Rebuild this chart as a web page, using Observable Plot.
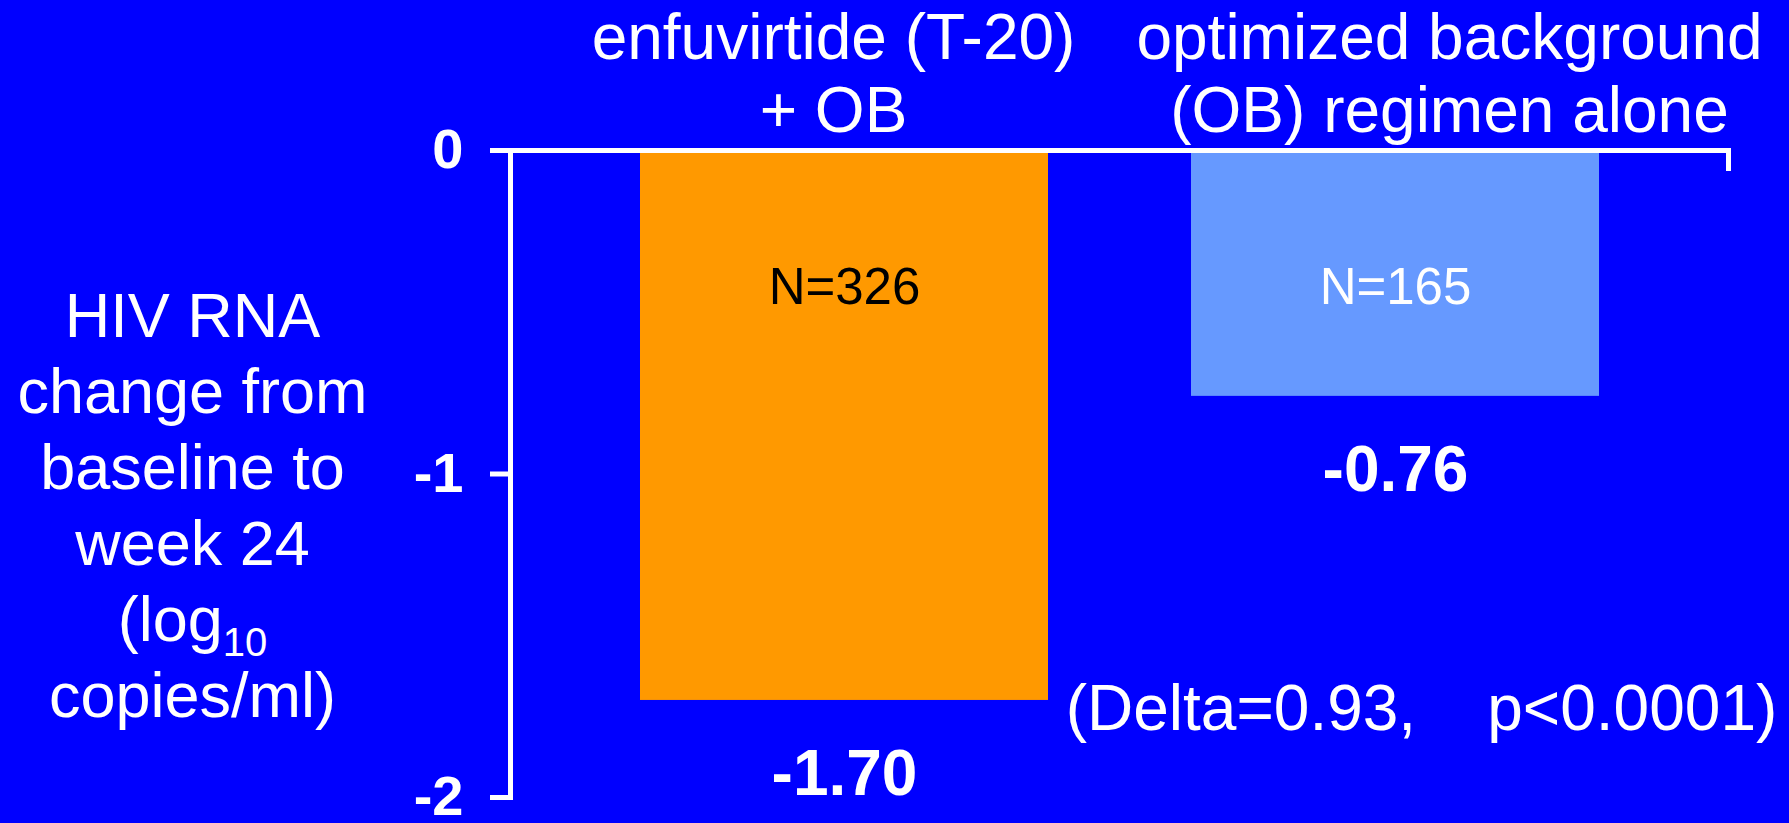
<!DOCTYPE html>
<html><head><meta charset="utf-8">
<script src="https://cdn.jsdelivr.net/npm/d3@7"></script>
<script src="https://cdn.jsdelivr.net/npm/@observablehq/plot@0.6"></script>
<style>
html,body{margin:0;padding:0;background:#0000FF;overflow:hidden;}
svg text{white-space:pre;}
</style></head><body><div id="chart"></div>
<script>
const categories = ["enfuvirtide (T-20)\n+ OB", "optimized background\n(OB) regimen alone"];
const values = [-1.70, -0.76];
const valueLabels = ["-1.70", "-0.76"];
const nLabels = ["N=326", "N=165"];
const barColors = ["#FF9900", "#6699FF"];
const nLabelColors = ["black", "white"];
const yTicks = [0, -1, -2];
const yTitle = "HIV RNA\nchange from\nbaseline to\nweek 24\n(log10\ncopies/ml)";
const note = "(Delta=0.93,    p<0.0001)";

const data = categories.map((c, i) => ({category: c, value: values[i], label: valueLabels[i], n: nLabels[i]}));
const font = "'Liberation Sans', Arial, Helvetica, sans-serif";

const chart = Plot.plot({
  width: 1789, height: 823,
  marginLeft: 510, marginRight: 61, marginTop: 150, marginBottom: 26,
  style: {background: "#0000FF", color: "white", fontFamily: font, overflow: "visible"},
  x: {domain: categories, paddingInner: 0.26, paddingOuter: 0.234, axis: null},
  y: {domain: [-2, 0], axis: null},
  color: {domain: categories, range: barColors},
  marks: [
    Plot.barY(data, {x: "category", y: "value", fill: "category"}),
    Plot.axisY({ticks: yTicks, tickSize: 20, tickPadding: 27, tickFormat: d => String(d),
      fontSize: 56, fontWeight: "bold", stroke: "white", strokeWidth: 5, label: null}),
    Plot.frame({anchor: "left", stroke: "white", strokeWidth: 5}),
    Plot.ruleY([0], {stroke: "white", strokeWidth: 5}),
    Plot.frame({anchor: "right", insetBottom: 629, stroke: "white", strokeWidth: 5}),
    Plot.text([data[0]], {x: "category", text: "category", frameAnchor: "top", lineAnchor: "bottom",
      dy: -19, dx: -11, lineHeight: 1.13, fontSize: 64, fill: "white"}),
    Plot.text([data[1]], {x: "category", text: "category", frameAnchor: "top", lineAnchor: "bottom",
      dy: -19, dx: 54, lineHeight: 1.13, fontSize: 64, fill: "white"}),
    Plot.text([data[0]], {x: "category", text: "n", frameAnchor: "top", lineAnchor: "bottom",
      dy: 153, fontSize: 51, fill: nLabelColors[0]}),
    Plot.text([data[1]], {x: "category", text: "n", frameAnchor: "top", lineAnchor: "bottom",
      dy: 153, fontSize: 51, fill: nLabelColors[1]}),
    Plot.text(data, {x: "category", y: "value", text: "label", lineAnchor: "bottom",
      dy: 95, fontSize: 64, fontWeight: "bold", fill: "white"}),
    Plot.text([note], {x: () => categories[1], y: () => values[0], text: d => d, lineAnchor: "bottom",
      dx: 26, dy: 30, fontSize: 64, fill: "white"}),
    Plot.text([yTitle], {frameAnchor: "left", text: d => d, textAnchor: "middle", lineAnchor: "middle",
      dx: -318, dy: 29, lineHeight: 1.206, fontSize: 63, fill: "white"})
  ]
});

// subscript for log10
chart.querySelectorAll("tspan, text").forEach(el => {
  if (el.childNodes.length === 1 && el.textContent === "(log10") {
    el.textContent = "(log";
    const sub = document.createElementNS("http://www.w3.org/2000/svg", "tspan");
    sub.setAttribute("font-size", "40");
    sub.setAttribute("baseline-shift", "-15");
    sub.textContent = "10";
    el.appendChild(sub);
  }
});

document.getElementById("chart").appendChild(chart);
</script>
</body></html>
